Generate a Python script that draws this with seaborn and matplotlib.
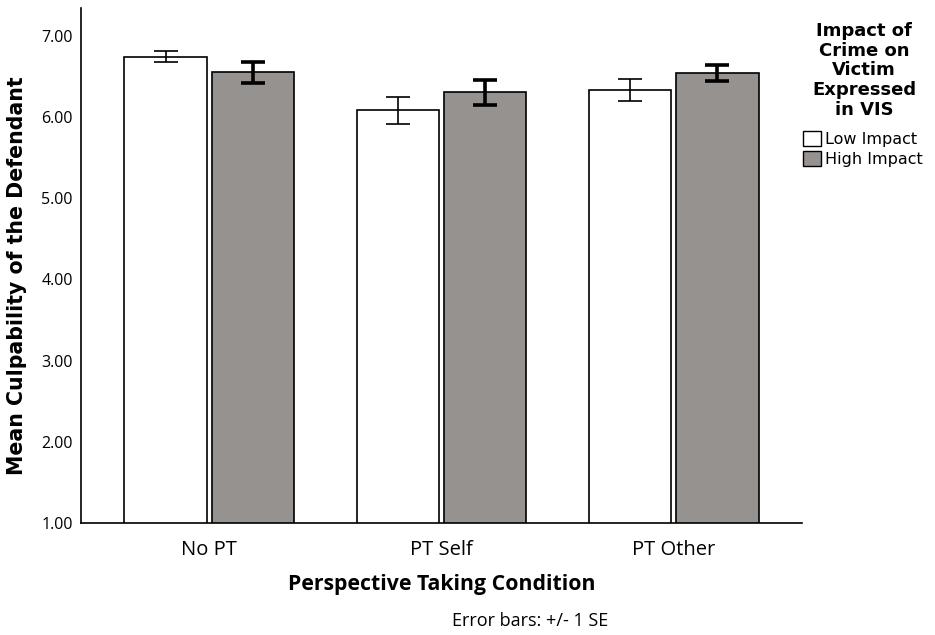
import pandas as pd
import matplotlib
matplotlib.use("Agg")
import matplotlib.pyplot as plt
import seaborn as sns

conditions = ["No PT", "PT Self", "PT Other"]
impact_levels = ["Low Impact", "High Impact"]
low_means = [6.74, 6.08, 6.33]
high_means = [6.55, 6.30, 6.54]
low_se = [0.065, 0.17, 0.135]
high_se = [0.13, 0.15, 0.095]

df = pd.DataFrame({
    "condition": conditions * 2,
    "impact": [impact_levels[0]] * 3 + [impact_levels[1]] * 3,
    "mean": low_means + high_means,
    "se": low_se + high_se,
})

sns.set_theme(style="white")
plt.rcParams["font.family"] = ["Open Sans", "DejaVu Sans"]
plt.rcParams["text.color"] = "black"
plt.rcParams["axes.labelcolor"] = "black"
plt.rcParams["xtick.color"] = "black"
plt.rcParams["ytick.color"] = "black"

fig = plt.figure(figsize=(9.35, 6.35), dpi=100)
ax = fig.add_axes([81 / 935, 112 / 635, (802 - 81) / 935, (523 - 8) / 635])

palette = {"Low Impact": "white", "High Impact": "#96928f"}
sns.barplot(
    data=df,
    x="condition",
    y="mean",
    hue="impact",
    order=conditions,
    hue_order=impact_levels,
    palette=palette,
    edgecolor="black",
    linewidth=1.2,
    width=0.75,
    gap=0.05,
    errorbar=None,
    legend=False,
    ax=ax,
)

# error bars (+/- 1 SE), drawn at the bar centres seaborn picked
for container, level, lw in zip(ax.containers, impact_levels, [1.2, 2.6]):
    sub = df[df["impact"] == level].set_index("condition").loc[conditions]
    xs = [b.get_x() + b.get_width() / 2 for b in container]
    ax.errorbar(
        xs, sub["mean"], yerr=sub["se"], fmt="none",
        ecolor="black", elinewidth=lw, capsize=8.3, capthick=lw, zorder=5,
    )

ax.set_xlim(-0.553, 2.553)
ax.set_ylim(1.0, 7.34)
ax.set_yticks([1, 2, 3, 4, 5, 6, 7])
ax.set_yticklabels([f"{v:.2f}" for v in [1, 2, 3, 4, 5, 6, 7]], fontsize=11.5)
ax.tick_params(axis="both", length=0, pad=6)
ax.tick_params(axis="x", labelsize=14.5, pad=12)
for side in ["top", "right"]:
    ax.spines[side].set_visible(False)
for side in ["left", "bottom"]:
    ax.spines[side].set_color("black")
    ax.spines[side].set_linewidth(1.2)

ax.set_xlabel("Perspective Taking Condition", fontsize=15.3, fontweight="bold", labelpad=10.5)
ax.set_ylabel("Mean Culpability of the Defendant", fontsize=14.8, fontweight="bold",
              family="DejaVu Sans")
ax.yaxis.set_label_coords(-0.075, 0.48)

# legend title as its own text so the gap to the entries can be set
fig.text(864 / 935, 1 - 22 / 635, "Impact of\nCrime on\nVictim\nExpressed\nin VIS",
         ha="center", va="top", multialignment="center", family="DejaVu Sans",
         fontweight="bold", fontsize=13, linespacing=1.12)

handles = [
    plt.Rectangle((0, 0), 1, 1, facecolor=palette[l], edgecolor="black", linewidth=1)
    for l in impact_levels
]
fig.legend(
    handles, impact_levels,
    loc="upper left", bbox_to_anchor=(803 / 935, 1 - 131 / 635),
    frameon=False, prop={"family": "DejaVu Sans", "size": 11.5},
    handlelength=1.1, handleheight=1.1,
    handletextpad=0.3, labelspacing=0.25, borderaxespad=0, borderpad=0,
)

fig.text(530 / 935, 1 - 621 / 635, "Error bars: +/- 1 SE", ha="center", va="center", fontsize=13)

fig.savefig("out.png", dpi=100)
